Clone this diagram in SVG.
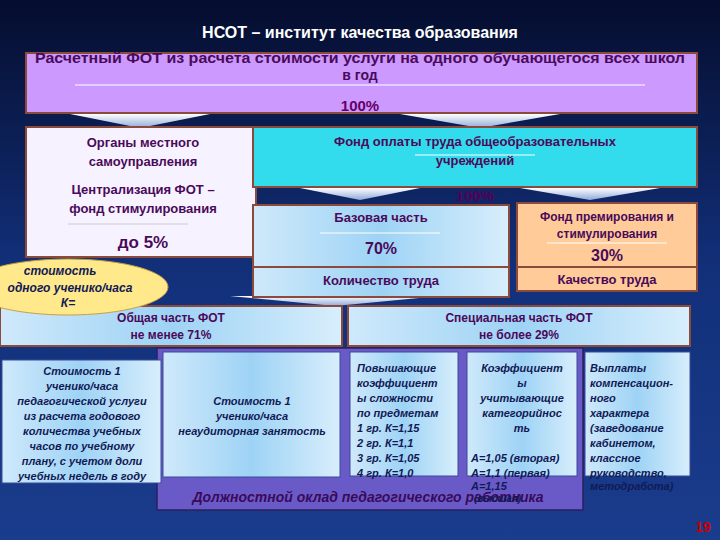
<svg xmlns="http://www.w3.org/2000/svg" width="720" height="540" viewBox="0 0 720 540">
<defs>
<linearGradient id="bg" x1="0" y1="0" x2="0" y2="1"><stop offset="0" stop-color="#050d2e"/><stop offset="0.5" stop-color="#12307a"/><stop offset="1" stop-color="#1a3c8c"/></linearGradient>
<linearGradient id="lb" x1="0" y1="0" x2="1" y2="0"><stop offset="0" stop-color="#cfe9fb"/><stop offset="0.5" stop-color="#9ed3f5"/><stop offset="1" stop-color="#d8eefc"/></linearGradient>
<linearGradient id="chev" x1="0" y1="0" x2="0" y2="1"><stop offset="0" stop-color="#ffffff"/><stop offset="1" stop-color="#8fa8d8"/></linearGradient>
</defs>
<style>
text{font-family:"Liberation Sans",Arial,sans-serif;font-weight:bold;text-anchor:middle}
.st{text-anchor:start}
.pu{fill:#4a0a5a}
.it{font-style:italic;fill:#111a55}
.br{stroke:#8b4a3a;stroke-width:2}
.bl{fill:url(#lb);stroke:#8b4a3a;stroke-width:2}
.sm{fill:url(#lb);stroke:#3a4a9a;stroke-width:1}
.ul{stroke:#ffffff;stroke-width:1}
</style>
<rect width="720" height="540" fill="url(#bg)"/>
<text x="360" y="38" font-size="16" fill="#ffffff">НСОТ – институт качества образования</text>
<g id="connectors">
<polygon points="70,114 210,114 140,128" fill="url(#chev)"/>
<polygon points="400,114 560,114 480,128" fill="url(#chev)"/>
<polygon points="300,188 420,188 360,200" fill="url(#chev)"/>
<polygon points="520,188 660,188 590,200" fill="url(#chev)"/>
<polygon points="230,296 440,296 335,306" fill="url(#chev)"/>
<line x1="305" y1="355" x2="340" y2="450" stroke="#ffffff" stroke-width="0.6" stroke-dasharray="1,2"/>
</g>
<g id="top">
<rect x="26" y="53" width="671" height="60" fill="#cc99ff" class="br"/>
<text x="360" y="63" font-size="14" class="pu" textLength="650" lengthAdjust="spacingAndGlyphs">Расчетный ФОТ из расчета стоимости услуги на одного обучающегося всех школ</text>
<text x="360" y="80" font-size="14" class="pu">в год</text>
<line x1="75" y1="85" x2="645" y2="85" class="ul"/>
<text x="360" y="111" font-size="15" fill="#660066">100%</text>
</g>
<g id="local">
<path d="M26,127 H260 V187 H256 V257 H26 Z" fill="#f7f2ff" class="br"/>
<text x="143" y="147" font-size="13" class="pu">Органы местного</text>
<text x="143" y="166" font-size="13" class="pu">самоуправления</text>
<text x="143" y="194" font-size="13" class="pu">Централизация ФОТ –</text>
<text x="143" y="213" font-size="13" class="pu">фонд стимулирования</text>
<line x1="68" y1="224" x2="188" y2="224" stroke="#ccc" stroke-width="1"/>
<text x="143" y="248" font-size="17" class="pu">до 5%</text>
</g>
<g id="fond">
<rect x="253" y="127" width="444" height="60" fill="#33dcec" class="br"/>
<text x="475" y="146" font-size="13" class="pu">Фонд оплаты труда общеобразовательных</text>
<text x="475" y="165" font-size="13" class="pu">учреждений</text>
<line x1="415" y1="155" x2="535" y2="155" class="ul"/>
<text x="475" y="201" font-size="15" fill="#55005a">100%</text>
</g>
<g id="base">
<rect x="253" y="205" width="256" height="62" class="bl"/>
<text x="381" y="222" font-size="13" class="pu">Базовая часть</text>
<line x1="320" y1="233" x2="440" y2="233" class="ul"/>
<text x="381" y="254" font-size="16" class="pu">70%</text>
<rect x="253" y="267" width="256" height="30" class="bl"/>
<text x="381" y="285" font-size="13" class="pu">Количество труда</text>
</g>
<g id="prem">
<rect x="517" y="203" width="180" height="64" fill="#ffcc99" class="br"/>
<text x="607" y="221" font-size="12" class="pu">Фонд премирования и</text>
<text x="607" y="238" font-size="12" class="pu">стимулирования</text>
<line x1="547" y1="243" x2="667" y2="243" class="ul"/>
<text x="607" y="261" font-size="16" class="pu">30%</text>
<rect x="517" y="267" width="180" height="24" fill="#ffcc99" class="br"/>
<text x="607" y="284" font-size="13" class="pu">Качество труда</text>
</g>
<g id="common">
<rect x="0" y="306" width="342" height="40" class="bl"/>
<text x="171" y="322" font-size="12" class="pu">Общая часть ФОТ</text>
<text x="171" y="339" font-size="12" class="pu">не менее 71%</text>
</g>
<g id="ellipse">
<ellipse cx="68" cy="287" rx="100" ry="28" fill="#ffe98a" stroke="#c9a040" stroke-width="1"/>
<text x="60" y="275" font-size="12" class="it">стоимость</text>
<text x="70" y="292" font-size="12" class="it">одного ученико/часа</text>
<text x="68" y="307" font-size="12" class="it">К=</text>
</g>
<g id="special">
<rect x="348" y="306" width="342" height="40" class="bl"/>
<text x="519" y="322" font-size="12" class="pu">Специальная часть ФОТ</text>
<text x="519" y="339" font-size="12" class="pu">не более 29%</text>
</g>
<g id="salary">
<rect x="157" y="348" width="426" height="162" fill="#6a5ac8" stroke="#2a2060" stroke-width="1.5"/>
<text x="368" y="502" font-size="14" font-style="italic" fill="#3a0a5a">Должностной оклад педагогического работника</text>
</g>
<g id="b1" font-size="11">
<rect x="2" y="360" width="159" height="123" class="sm"/>
<text x="82" y="375" class="it">Стоимость 1</text>
<text x="82" y="390" class="it">ученико/часа</text>
<text x="82" y="405" class="it">педагогической услуги</text>
<text x="82" y="420" class="it">из расчета годового</text>
<text x="82" y="435" class="it">количества учебных</text>
<text x="82" y="450" class="it">часов по учебному</text>
<text x="82" y="465" class="it">плану, с учетом доли</text>
<text x="82" y="480" class="it">учебных недель в году</text>
</g>
<g id="b2" font-size="11">
<rect x="163" y="352" width="177" height="125" class="sm"/>
<text x="252" y="405" class="it">Стоимость 1</text>
<text x="252" y="420" class="it">ученико/часа</text>
<text x="252" y="435" class="it">неаудиторная занятость</text>
</g>
<g id="b3" font-size="11">
<rect x="350" y="352" width="108" height="124" class="sm"/>
<text x="357" y="372" class="it st">Повышающие</text>
<text x="357" y="387" class="it st">коэффициент</text>
<text x="357" y="402" class="it st">ы сложности</text>
<text x="357" y="417" class="it st">по предметам</text>
<text x="357" y="432" class="it st">1 гр. К=1,15</text>
<text x="357" y="447" class="it st">2 гр. К=1,1</text>
<text x="357" y="462" class="it st">3 гр. К=1,05</text>
<text x="357" y="477" class="it st">4 гр. К=1,0</text>
</g>
<g id="b4" font-size="11">
<rect x="467" y="352" width="110" height="124" class="sm"/>
<text x="522" y="372" class="it">Коэффициент</text>
<text x="522" y="387" class="it">ы</text>
<text x="522" y="402" class="it">учитывающие</text>
<text x="522" y="417" class="it">категорийнос</text>
<text x="522" y="432" class="it">ть</text>
<text x="471" y="462" class="it st">А=1,05 (вторая)</text>
<text x="471" y="477" class="it st">А=1,1 (первая)</text>
<text x="471" y="490" class="it st">А=1,15</text>
<text x="474" y="502" class="it st" font-size="10" fill="#2a1a5a">(высшая)</text>
</g>
<g id="b5" font-size="11">
<rect x="585" y="352" width="105" height="124" class="sm"/>
<text x="590" y="372" class="it st">Выплаты</text>
<text x="590" y="387" class="it st">компенсацион-</text>
<text x="590" y="402" class="it st">ного</text>
<text x="590" y="417" class="it st">характера</text>
<text x="590" y="432" class="it st">(заведование</text>
<text x="590" y="447" class="it st">кабинетом,</text>
<text x="590" y="462" class="it st">классное</text>
<text x="590" y="477" class="it st">руководство,</text>
<text x="590" y="490" class="it st">методработа)</text>
</g>
<text x="703" y="532" font-size="14" fill="#cc0000">19</text>
</svg>
